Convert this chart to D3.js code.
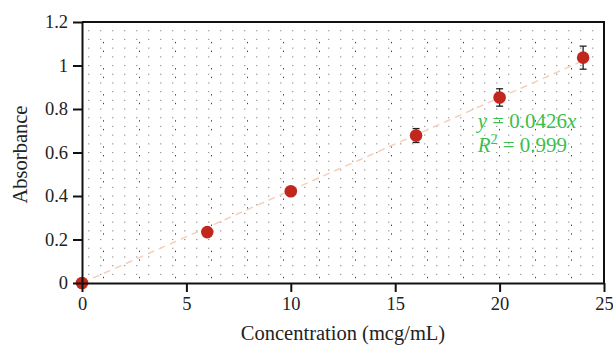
<!DOCTYPE html>
<html>
<head>
<meta charset="utf-8">
<script src="https://cdn.jsdelivr.net/npm/d3@7"></script>
<style>
  body { margin: 0; background: #fff; }
  svg { display: block; font-family: "Liberation Serif", "DejaVu Serif", serif; }
</style>
</head>
<body>
<div id="chart"></div>
<script>
// data
const concentration = [0, 6, 10, 16, 20, 24];
const absorbance = [0, 0.234, 0.422, 0.678, 0.853, 1.036];
const errorBars = [0, 0.005, 0.006, 0.032, 0.04, 0.053];
const slope = 0.0426;
const xTicks = [0, 5, 10, 15, 20, 25];
const yTicks = [0, 0.2, 0.4, 0.6, 0.8, 1, 1.2];

const width = 613, height = 347;
const margin = { top: 22, right: 9, bottom: 64, left: 82 };
const w = width - margin.left - margin.right;
const h = height - margin.top - margin.bottom;

const svg = d3.select('#chart').append('svg')
  .attr('width', width)
  .attr('height', height);

const g = svg.append('g')
  .attr('transform', `translate(${margin.left},${margin.top})`);

const x = d3.scaleLinear().domain([0, 25]).range([0, w]);
const y = d3.scaleLinear().domain([0, 1.2]).range([h, 0]);

// dotted background grid
const rows = d3.range(0.04, 1.2, 0.04);
const colStep = 12;
const dots = [];
rows.forEach((r, i) => {
  for (let cx = 6; cx < w - 2; cx += colStep) {
    dots.push({ x: cx, y: y(r), dark: false });
  }
  if (i % 3 !== 1) {
    for (let cx = 21; cx < w - 2; cx += colStep * 3) {
      dots.push({ x: cx, y: y(r) + 3, dark: true });
    }
  }
});
g.append('g').selectAll('rect')
  .data(dots)
  .enter()
  .append('rect')
  .attr('x', d => d.x)
  .attr('y', d => d.y - 0.5)
  .attr('width', d => d.dark ? 1 : 1.4)
  .attr('height', d => d.dark ? 1.4 : 1.1)
  .attr('fill', d => d.dark ? '#444' : '#999');

// trend line
g.append('line')
  .attr('x1', x(0))
  .attr('y1', y(0))
  .attr('x2', x(24))
  .attr('y2', y(24 * slope))
  .attr('stroke', '#f6cfb8')
  .attr('stroke-width', 1.5)
  .attr('stroke-dasharray', '7,5');

// error bars
const pts = concentration.map((c, i) => ({ c: c, a: absorbance[i], e: errorBars[i] }));
const eb = g.append('g').selectAll('g')
  .data(pts.filter(d => d.e > 0.02))
  .enter()
  .append('g')
  .attr('stroke', '#222')
  .attr('stroke-width', 1.3);
eb.append('line')
  .attr('x1', d => x(d.c)).attr('x2', d => x(d.c))
  .attr('y1', d => y(d.a - d.e)).attr('y2', d => y(d.a + d.e));
eb.append('line')
  .attr('x1', d => x(d.c) - 3.5).attr('x2', d => x(d.c) + 3.5)
  .attr('y1', d => y(d.a + d.e)).attr('y2', d => y(d.a + d.e));
eb.append('line')
  .attr('x1', d => x(d.c) - 3.5).attr('x2', d => x(d.c) + 3.5)
  .attr('y1', d => y(d.a - d.e)).attr('y2', d => y(d.a - d.e));

// points
g.append('g').selectAll('circle')
  .data(pts)
  .enter()
  .append('circle')
  .attr('cx', d => x(d.c))
  .attr('cy', d => y(d.a))
  .attr('r', 6.3)
  .attr('fill', '#c1271d');

// frame
g.append('path')
  .attr('d', `M0,0H${w}V${h}`)
  .attr('fill', 'none')
  .attr('stroke', '#111')
  .attr('stroke-width', 2);

// axes
const xAxis = g.append('g')
  .attr('transform', `translate(0,${h})`)
  .call(d3.axisBottom(x).tickValues(xTicks).tickSize(9).tickPadding(5).tickSizeOuter(0));
const yAxis = g.append('g')
  .call(d3.axisLeft(y).tickValues(yTicks).tickSize(9).tickPadding(5).tickSizeOuter(0)
    .tickFormat(d3.format('')));
[xAxis, yAxis].forEach(a => {
  a.select('.domain').attr('stroke', '#111').attr('stroke-width', 2);
  a.selectAll('.tick line').attr('stroke', '#111').attr('stroke-width', 2);
  a.selectAll('.tick text')
    .attr('fill', '#222')
    .style('font-family', '"Liberation Serif", serif')
    .style('font-size', '18.5px');
});

// axis titles
svg.append('text')
  .attr('x', margin.left + w / 2)
  .attr('y', 340)
  .attr('text-anchor', 'middle')
  .attr('fill', '#222')
  .style('font-size', '20.5px')
  .text('Concentration (mcg/mL)');

svg.append('text')
  .attr('transform', `translate(27,${margin.top + h / 2 + 2}) rotate(-90)`)
  .attr('text-anchor', 'middle')
  .attr('fill', '#222')
  .style('font-size', '20.5px')
  .text('Absorbance');

// equation
const eq = g.append('g')
  .attr('fill', '#3cbf4c')
  .style('font-size', '21px');
const t1 = eq.append('text')
  .attr('x', x(18.95))
  .attr('y', y(0.712));
t1.append('tspan').style('font-style', 'italic').text('y');
t1.append('tspan').text(' = 0.0426');
t1.append('tspan').style('font-style', 'italic').text('x');
const t2 = eq.append('text')
  .attr('x', x(18.95))
  .attr('y', y(0.603));
t2.append('tspan').style('font-style', 'italic').text('R');
t2.append('tspan').attr('dy', -8).style('font-size', '14px').text('2');
t2.append('tspan').attr('dy', 8).text(' = 0.999');
</script>
</body>
</html>
